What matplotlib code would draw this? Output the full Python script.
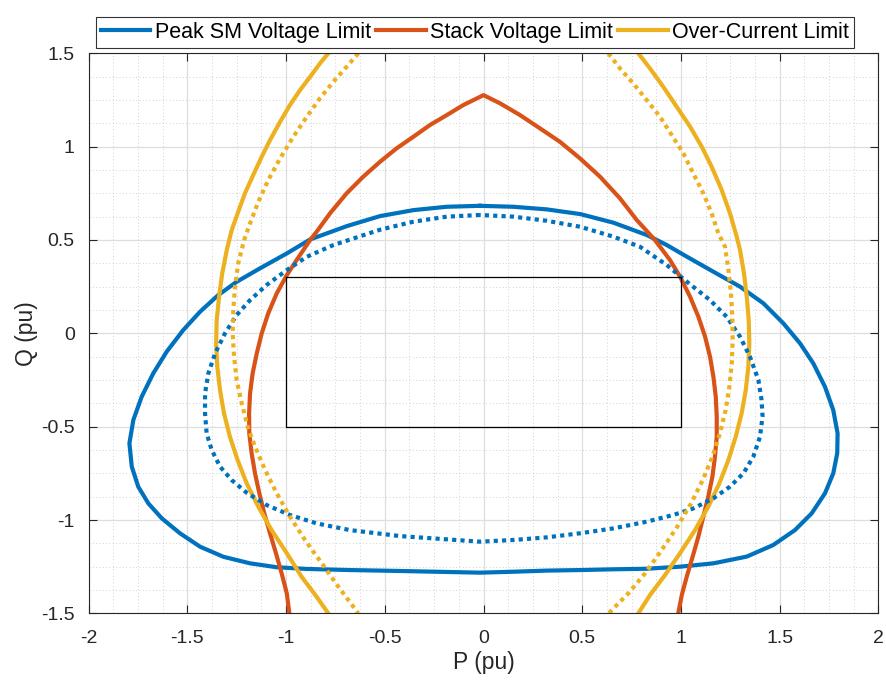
import numpy as np
import matplotlib.pyplot as plt
from matplotlib.ticker import MultipleLocator

plt.rcParams['font.family'] = ['Liberation Sans', 'DejaVu Sans']
plt.rcParams['axes.unicode_minus'] = False

# Peak SM voltage limit (solid, closed curve)
sm_p = [-0.018, -0.186, -0.355, -0.524, -0.693, -0.878, -0.996, -1.132, -1.250,
        -1.343, -1.435, -1.520, -1.604, -1.672, -1.731, -1.773, -1.793, -1.781, -1.748, -1.697,
        -1.629, -1.537, -1.435, -1.317, -1.182, -1.047, -0.895, -0.676, -0.423,
        -0.018, 0.151, 0.32, 0.489, 0.657, 0.826, 0.995, 1.164, 1.333, 1.467, 1.577, 1.662,
        1.729, 1.771, 1.791, 1.793, 1.771, 1.729, 1.670, 1.603, 1.518, 1.417, 1.299, 1.164,
        1.029, 0.928, 0.826, 0.657, 0.489, 0.32, 0.151, -0.018]
sm_q = [0.683, 0.678, 0.660, 0.628, 0.574, 0.503, 0.428, 0.348, 0.276,
        0.205, 0.116, 0.018, -0.098, -0.214, -0.340, -0.464, -0.589, -0.714, -0.822, -0.911,
        -0.991, -1.071, -1.143, -1.197, -1.232, -1.253, -1.262, -1.268, -1.273,
        -1.282, -1.277, -1.271, -1.268, -1.264, -1.261, -1.25, -1.232, -1.196, -1.134, -1.054, -0.964,
        -0.857, -0.750, -0.643, -0.536, -0.411, -0.286, -0.161, -0.054, 0.054, 0.161, 0.250, 0.330,
        0.411, 0.473, 0.527, 0.593, 0.639, 0.664, 0.678, 0.683]

# Peak SM voltage limit (dotted, closed curve)
sm2_p = [-0.018, -0.186, -0.355, -0.524, -0.760, -0.895, -0.996, -1.098, -1.182,
         -1.250, -1.309, -1.359, -1.393, -1.410, -1.410, -1.402, -1.376, -1.334, -1.275, -1.199,
         -1.098, -0.980, -0.845, -0.676, -0.423,
         -0.018, 0.151, 0.32, 0.489, 0.657, 0.826, 0.961, 1.062, 1.164, 1.248, 1.316, 1.366,
         1.400, 1.413, 1.408, 1.392, 1.349, 1.299, 1.231, 1.147, 1.029, 0.928, 0.792, 0.657,
         0.489, 0.32, 0.151, -0.018]
sm2_q = [0.634, 0.625, 0.598, 0.555, 0.473, 0.410, 0.339, 0.259, 0.178,
         0.098, 0.0, -0.107, -0.214, -0.321, -0.429, -0.536, -0.625, -0.714, -0.786, -0.854,
         -0.920, -0.973, -1.018, -1.054, -1.086,
         -1.116, -1.107, -1.093, -1.071, -1.045, -1.009, -0.973, -0.938, -0.884, -0.821, -0.750, -0.661,
         -0.554, -0.446, -0.357, -0.250, -0.125, -0.018, 0.089, 0.178, 0.277, 0.366, 0.464, 0.518,
         0.571, 0.603, 0.625, 0.634]

# Stack voltage limit
stack_p = [-0.983, -0.996, -1.022, -1.051, -1.081, -1.110, -1.135, -1.157, -1.174, -1.186,
           -1.187, -1.182, -1.169, -1.148, -1.123, -1.090, -1.047, -0.996, -0.946, -0.878,
           -0.845, -0.777, -0.693, -0.609, -0.524, -0.440, -0.355, -0.271, -0.186, -0.102,
           0, 0.084, 0.185, 0.286, 0.387, 0.489, 0.59, 0.691, 0.776, 0.868,
           0.944, 0.995, 1.046, 1.088, 1.122, 1.147, 1.164, 1.176, 1.181, 1.181,
           1.172, 1.159, 1.138, 1.113, 1.088, 1.059, 1.029, 1.004, 0.986]
stack_q = [-1.5, -1.393, -1.286, -1.178, -1.071, -0.964, -0.857, -0.75, -0.643, -0.536,
           -0.429, -0.321, -0.214, -0.107, 0.0, 0.107, 0.214, 0.312, 0.393, 0.5,
           0.544, 0.643, 0.750, 0.839, 0.919, 0.991, 1.053, 1.116, 1.169, 1.223,
           1.276, 1.232, 1.169, 1.098, 1.026, 0.937, 0.839, 0.723, 0.607, 0.5,
           0.393, 0.304, 0.196, 0.089, -0.018, -0.125, -0.232, -0.339, -0.446, -0.554,
           -0.661, -0.768, -0.875, -0.982, -1.089, -1.196, -1.304, -1.402, -1.5]

# Over-current limit, solid (left and right arcs)
oc_left_p = [-0.786, -0.828, -0.878, -0.929, -0.980, -1.030, -1.081, -1.123, -1.166, -1.208,
             -1.242, -1.275, -1.300, -1.323, -1.339, -1.351, -1.354, -1.348, -1.334, -1.314,
             -1.284, -1.245, -1.199, -1.140, -1.073, -0.996, -0.921, -0.845, -0.786]
oc_left_q = [1.5, 1.446, 1.374, 1.303, 1.223, 1.133, 1.035, 0.946, 0.848, 0.750,
             0.651, 0.553, 0.446, 0.321, 0.196, 0.071, -0.054, -0.179, -0.304, -0.429,
             -0.554, -0.679, -0.804, -0.929, -1.054, -1.178, -1.304, -1.411, -1.5]
oc_right_p = [0.784, 0.843, 0.910, 0.978, 1.046, 1.105, 1.155, 1.206, 1.248, 1.282,
              1.299, 1.319, 1.333, 1.343, 1.346, 1.341, 1.328, 1.307, 1.277, 1.240,
              1.194, 1.138, 1.071, 0.995, 0.919, 0.843, 0.784]
oc_right_q = [1.5, 1.419, 1.321, 1.214, 1.107, 1.0, 0.893, 0.768, 0.643, 0.518,
              0.446, 0.321, 0.196, 0.071, -0.054, -0.179, -0.304, -0.429, -0.554, -0.679,
              -0.804, -0.929, -1.054, -1.178, -1.295, -1.402, -1.5]

# Over-current limit, dotted
oc2_left_p = [-0.634, -0.693, -0.760, -0.828, -0.895, -0.963, -1.030, -1.090, -1.140, -1.182,
              -1.212, -1.242, -1.258, -1.267, -1.270, -1.263, -1.250, -1.224, -1.194, -1.157,
              -1.106, -1.047, -0.980, -0.904, -0.819, -0.735, -0.634]
oc2_left_q = [1.5, 1.428, 1.348, 1.259, 1.160, 1.053, 0.937, 0.821, 0.705, 0.589,
              0.5, 0.375, 0.25, 0.125, 0.0, -0.125, -0.25, -0.375, -0.5, -0.607,
              -0.732, -0.857, -0.982, -1.107, -1.232, -1.357, -1.5]
oc2_right_p = [0.632, 0.691, 0.758, 0.826, 0.894, 0.953, 1.012, 1.062, 1.113, 1.155,
               1.189, 1.223, 1.240, 1.253, 1.260, 1.262, 1.257, 1.245, 1.226, 1.197,
               1.159, 1.110, 1.051, 0.981, 0.902, 0.818, 0.733, 0.634]
oc2_right_q = [1.5, 1.419, 1.339, 1.25, 1.160, 1.062, 0.964, 0.857, 0.75, 0.643,
               0.536, 0.464, 0.339, 0.214, 0.089, -0.036, -0.161, -0.286, -0.411, -0.536,
               -0.661, -0.786, -0.911, -1.036, -1.161, -1.286, -1.393, -1.5]

# operating region box
box_p = [-1, 1, 1, -1, -1]
box_q = [0.3, 0.3, -0.5, -0.5, 0.3]

c_blue = '#0072BD'
c_red = '#D95319'
c_yel = '#EDB120'
lw = 3
dots = (0, (1, 1))

fig = plt.figure(figsize=(8.87, 6.8), dpi=100)
ax = fig.add_axes([0.0998, 0.098, 0.8906, 0.8236])

h1, = ax.plot(sm_p, sm_q, color=c_blue, lw=lw, label='Peak SM Voltage Limit')
h2, = ax.plot(stack_p, stack_q, color=c_red, lw=lw, label='Stack Voltage Limit')
h3, = ax.plot(oc_left_p, oc_left_q, color=c_yel, lw=lw, label='Over-Current Limit')
ax.plot(oc_right_p, oc_right_q, color=c_yel, lw=lw)
ax.plot(sm2_p, sm2_q, color=c_blue, lw=lw, ls=dots)
ax.plot(oc2_left_p, oc2_left_q, color=c_yel, lw=lw, ls=dots)
ax.plot(oc2_right_p, oc2_right_q, color=c_yel, lw=lw, ls=dots)
ax.plot(box_p, box_q, color='black', lw=0.9)

ax.set_xlim(-2, 2)
ax.set_ylim(-1.5, 1.5)
ax.xaxis.set_major_locator(MultipleLocator(0.5))
ax.yaxis.set_major_locator(MultipleLocator(0.5))
ax.xaxis.set_minor_locator(MultipleLocator(0.125))
ax.yaxis.set_minor_locator(MultipleLocator(0.125))
ax.set_xticklabels([f'{v:g}' for v in ax.get_xticks()])
ax.set_yticklabels([f'{v:g}' for v in ax.get_yticks()])

ax.grid(True, which='major', color='#dedede', lw=0.9)
ax.grid(True, which='minor', color='#c4c4c4', lw=0.6, ls=(0, (1, 3)))
ax.set_axisbelow(True)
ax.tick_params(which='major', direction='in', length=5.7, width=0.8, top=True, right=True,
               labelsize=14, colors='#262626', pad=10)
ax.tick_params(axis='x', which='major', pad=12)
ax.tick_params(which='minor', length=0)
for s in ax.spines.values():
    s.set_color('#262626')
    s.set_linewidth(0.8)

ax.set_xlabel('P (pu)', fontsize=16.5, color='#262626', labelpad=3)
ax.set_ylabel('Q (pu)', fontsize=16.5, color='#262626', labelpad=2)

leg = fig.legend(handles=[h1, h2, h3], loc='lower center', bbox_to_anchor=(0.5355, 0.929),
                 ncol=3, fontsize=15.5, frameon=True, fancybox=False, edgecolor='black',
                 handlelength=2.3, handletextpad=0.2, columnspacing=0.25, borderpad=0.25,
                 borderaxespad=0)
leg.get_frame().set_linewidth(0.8)

fig.savefig('out.png', dpi=100)
